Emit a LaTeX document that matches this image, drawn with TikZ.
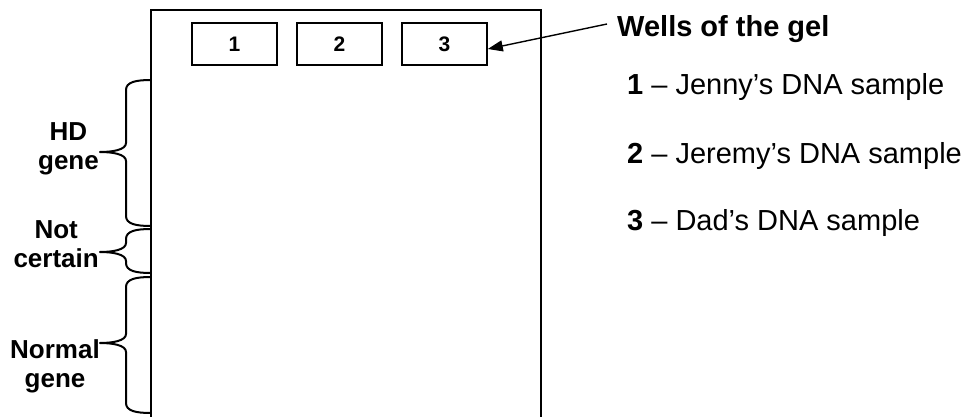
\documentclass[tikz,border=0pt]{standalone}
\usepackage{fontspec}
\setmainfont{Liberation Sans}
\usetikzlibrary{arrows.meta,calc}
\tikzset{
  gelline/.style={line width=2.6pt},
  wellbox/.style={draw, line width=1.6pt, minimum width=85pt, minimum height=42pt, inner sep=0pt, font=\fontsize{21}{25}\selectfont\bfseries},
  bracestyle/.style={line width=2pt, line join=round},
  sidelabel/.style={align=center, inner sep=0pt, font=\fontsize{26}{29}\selectfont\bfseries},
  legend/.style={anchor=base west, inner sep=0pt, font=\fontsize{29}{34}\selectfont},
  pointer/.style={line width=1.4pt, -{Triangle[length=15pt,width=11pt]}}
}
\newcommand\gelbrace[3]{%
  \draw[bracestyle] (151,#1) .. controls (136,#1) and (126,#1+2) .. (126,#1+10)
    -- (126,#2-9) .. controls (126,#2-2) and (112,#2) .. (100,#2)
    .. controls (112,#2) and (126,#2+2) .. (126,#2+9)
    -- (126,#3-10) .. controls (126,#3-2) and (136,#3) .. (151,#3);}
\begin{document}
\begin{tikzpicture}[x=1pt,y=-1pt]
\useasboundingbox (0,0) rectangle (968,417);
% gel
\draw[gelline] (151,420) -- (151,10) -- (541,10) -- (541,420);
% wells
\node[wellbox] (w1) at (234.5,44) {1};
\node[wellbox] (w2) at (339.5,44) {2};
\node[wellbox] (w3) at (444.5,44) {3};
% pointer
\node[legend, font=\fontsize{29}{34}\selectfont\bfseries] (wells) at (617,37) {Wells of the gel};
\coordinate (ps) at (607,24);
\draw[pointer] (ps) -- ($(w3.east)+(0,5)$);
% legend
\node[legend] (l1) at (627,95) {\textbf{1} – Jenny’s DNA sample};
\node[legend] (l2) at (627,163) {\textbf{2} – Jeremy’s DNA sample};
\node[legend] (l3) at (627,230) {\textbf{3} – Dad’s DNA sample};
% braces
\gelbrace{80}{152}{226}
\gelbrace{229}{252}{273}
\gelbrace{277}{343}{413}
% labels
\node[sidelabel, anchor=base east] (hd) at (99,169) {HD\\gene};
\node[sidelabel, anchor=base east] (nc) at (99,267) {Not\\certain};
\node[sidelabel, anchor=base east] (ng) at (100,387) {Normal\\gene};
\end{tikzpicture}
\end{document}
